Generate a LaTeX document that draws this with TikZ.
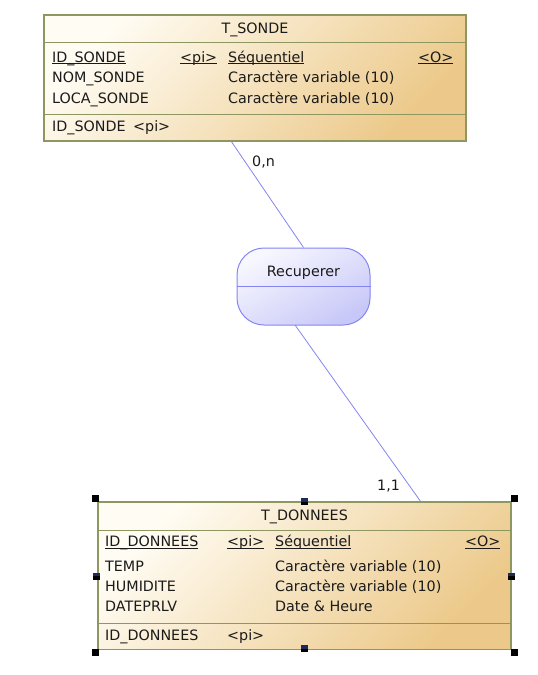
\documentclass[tikz,border=0pt]{standalone}
\usepackage{fontspec}
\setmainfont{DejaVu Sans}
\usetikzlibrary{calc}
\definecolor{entclair}{HTML}{FFFCF3}
\definecolor{entfonce}{HTML}{ECC98A}
\definecolor{entbord}{HTML}{8F9760}
\definecolor{relclair}{HTML}{F7F7FF}
\definecolor{relfonce}{HTML}{C8C8F8}
\definecolor{relbord}{HTML}{8585F2}
\definecolor{poignee}{HTML}{1E2A5A}
\definecolor{texte}{HTML}{1A1A1A}
\newcommand{\souligne}[1]{\underline{\smash{#1}}}
\tikzset{
  entite/.style={draw=entbord, line width=1.4pt, top color=entclair, bottom color=entfonce, shading angle=45, inner sep=0pt},
  separe/.style={entbord, line width=1pt},
  relation/.style={draw=relbord, line width=1pt, top color=relclair, bottom color=relfonce, shading angle=30, rounded corners=27pt, inner sep=0pt, minimum width=133pt, minimum height=77pt},
  lien/.style={relbord, line width=0.8pt},
  txt/.style={anchor=base west, inner sep=0pt, text=texte, font=\fontsize{14.3}{17}\selectfont},
  titre/.style={txt, anchor=base},
  handle/.style={fill=black}
}
\begin{document}
\begin{tikzpicture}[x=1pt,y=-1pt]
\useasboundingbox (0,0) rectangle (538,675);

%liens
\coordinate (sonde-lien) at (231,141);
\coordinate (rec-bas) at (295,325);
\coordinate (donnees-lien) at (421,502);

%entite T_SONDE
\node[entite, minimum width=422pt, minimum height=126pt] (sonde) at (255,78) {};
\draw[separe] (sonde.west |- 0,42.3) -- (sonde.east |- 0,42.3);
\draw[separe] (sonde.west |- 0,114.3) -- (sonde.east |- 0,114.3);
\node[titre] (sonde-titre) at (255,33) {T\_SONDE};
\node[txt] (sonde-a1) at (52,62) {\souligne{ID\_SONDE}};
\node[txt] (sonde-p1) at (180,62) {\souligne{<pi>}};
\node[txt] (sonde-t1) at (228,62) {\souligne{Séquentiel}};
\node[txt] (sonde-o1) at (418,62) {\souligne{<O>}};
\node[txt] (sonde-a2) at (52,82.5) {NOM\_SONDE};
\node[txt] (sonde-t2) at (228,82.5) {Caractère variable (10)};
\node[txt] (sonde-a3) at (52,103) {LOCA\_SONDE};
\node[txt] (sonde-t3) at (228,103) {Caractère variable (10)};
\node[txt] (sonde-id) at (52,131.5) {ID\_SONDE};
\node[txt] (sonde-pi) at (133,131.5) {<pi>};
%fin

%relation
\node[relation] (rec) at (303.5,286.5) {};
\draw[relbord, line width=1pt] (rec.west) -- (rec.east);
\node[titre] (rec-titre) at (303.5,276) {Recuperer};
%fin

%entite T_DONNEES
\node[entite, minimum width=413pt, minimum height=147.5pt] (donnees) at (304.5,575.75) {};
\draw[separe] (donnees.west |- 0,530.3) -- (donnees.east |- 0,530.3);
\draw[separe] (donnees.west |- 0,623.3) -- (donnees.east |- 0,623.3);
\node[titre] (donnees-titre) at (304.5,520.5) {T\_DONNEES};
\node[txt] (donnees-a1) at (105,546.5) {\souligne{ID\_DONNEES}};
\node[txt] (donnees-p1) at (227,546.5) {\souligne{<pi>}};
\node[txt] (donnees-t1) at (275,546.5) {\souligne{Séquentiel}};
\node[txt] (donnees-o1) at (465,546.5) {\souligne{<O>}};
\node[txt] (donnees-a2) at (105,571) {TEMP};
\node[txt] (donnees-t2) at (275,571) {Caractère variable (10)};
\node[txt] (donnees-a3) at (105,591.5) {HUMIDITE};
\node[txt] (donnees-t3) at (275,591.5) {Caractère variable (10)};
\node[txt] (donnees-a4) at (105,611.5) {DATEPRLV};
\node[txt] (donnees-t4) at (275,611.5) {Date \& Heure};
\node[txt] (donnees-id) at (105,640) {ID\_DONNEES};
\node[txt] (donnees-pi) at (227,640) {<pi>};
%poignees de selection
\foreach \px/\py in {95.5/498.5, 514/498.5, 95.5/652, 514/652, 304/501.5, 304/648.5, 96.5/576, 511/576}
  \fill[handle] (\px-3.5,\py-3.5) rectangle ++(7,7);
\foreach \px/\py in {304/501.5, 304/648.5, 96.5/576, 511/576}
  \fill[poignee] (\px-3.5,\py-3.5) rectangle ++(7,3.5);
%fin

%connecteurs et cardinalites
\draw[lien] (sonde-lien) -- (rec.north);
\draw[lien] (rec-bas) -- (donnees-lien);
\node[txt] (card-sonde) at (252,166) {0,n};
\node[txt] (card-donnees) at (377,490) {1,1};
%fin
\end{tikzpicture}
\end{document}
